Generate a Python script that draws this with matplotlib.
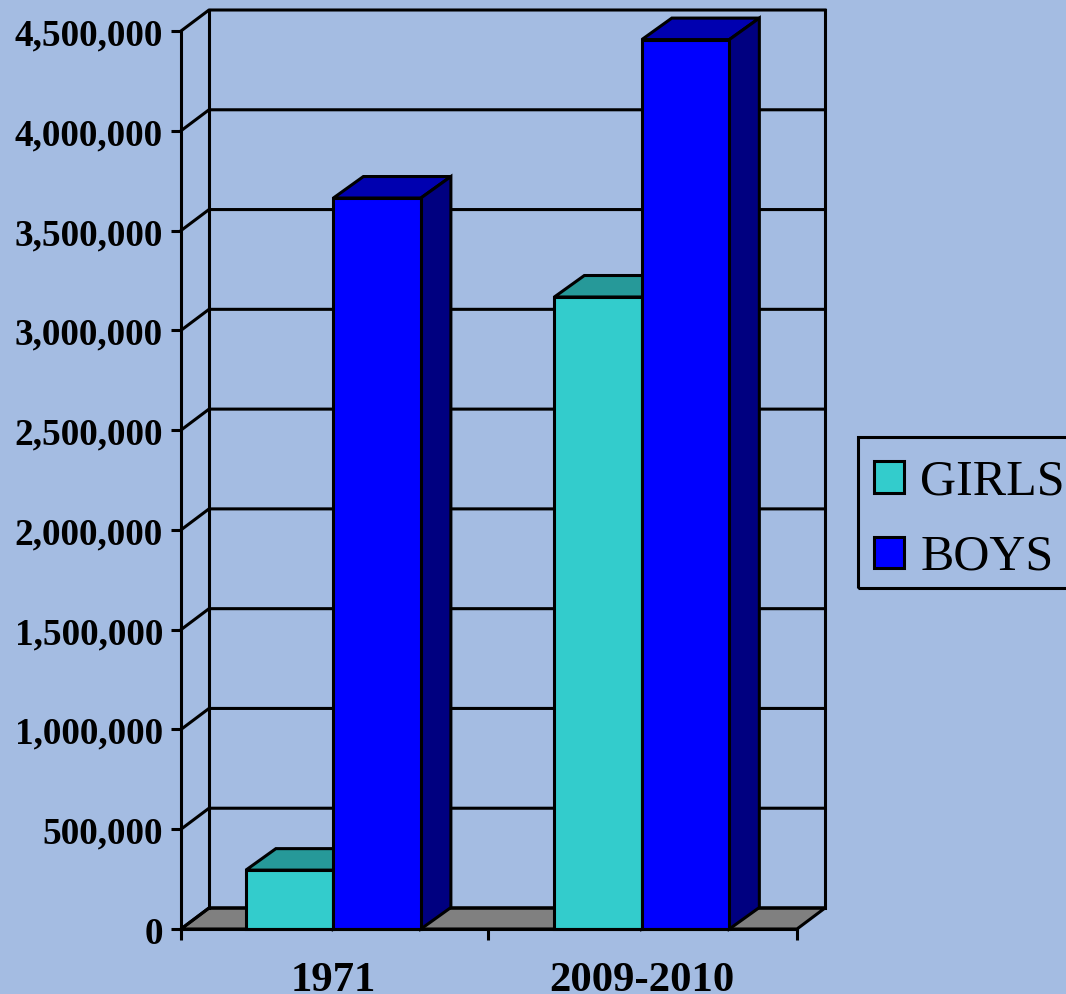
import matplotlib
matplotlib.use("Agg")
import matplotlib.pyplot as plt
from matplotlib.patches import Patch, Rectangle
from matplotlib.transforms import ScaledTranslation

categories = ["1971", "2009-2010"]
girls = [295000, 3167000]
boys = [3663000, 4457000]
series_names = ["GIRLS", "BOYS"]
y_ticks = [0, 500000, 1000000, 1500000, 2000000, 2500000, 3000000, 3500000, 4000000, 4500000]

BG = "#A4BCE2"
FONT = "Liberation Serif"
W, H = 1066, 994
LW = 2.2

fig = plt.figure(figsize=(W / 100, H / 100), dpi=100, facecolor=BG)
ax = fig.add_axes([181 / W, 1 - 929 / H, (797 - 181) / W, (929 - 31) / H], facecolor="none")
XMIN, XMAX = -0.494, 1.503
YMAX = 4500000
ax.set_xlim(XMIN, XMAX)
ax.set_ylim(0, YMAX)

# depth of the pseudo-3D box, expressed in data units
px_x = (XMAX - XMIN) / (797 - 181)
px_y = YMAX / (929 - 31)
DX, DY = 28 * px_x, 21 * px_y
BAR_DX, BAR_DY = 30 * px_x, 21.5 * px_y
BAR_W = 87.5 * px_x


def line(xs, ys, z=2, lw=LW):
    ax.plot(xs, ys, color="black", lw=lw, clip_on=False, zorder=z, solid_capstyle="projecting")


# floor
ax.fill([XMIN, XMAX, XMAX + DX, XMIN + DX], [0, 0, DY, DY],
        facecolor="#808080", edgecolor="black", lw=LW, clip_on=False, zorder=1, joinstyle="miter")
# walls and gridlines
for v in y_ticks:
    line([XMIN, XMIN + DX, XMAX + DX], [v, v + DY, v + DY])
line([XMIN + DX, XMIN + DX], [DY, YMAX + DY])
line([XMAX + DX, XMAX + DX], [DY, YMAX + DY])


def bar3d(x_left, value, front, top, side, z):
    ax.bar(x_left, value, BAR_W, align="edge", color=front, edgecolor="black", lw=LW,
           clip_on=False, zorder=z + 0.2)
    x_right = x_left + BAR_W
    ax.fill([x_left, x_right, x_right + BAR_DX, x_left + BAR_DX],
            [value, value, value + BAR_DY, value + BAR_DY],
            facecolor=top, edgecolor="black", lw=LW, clip_on=False, zorder=z, joinstyle="miter")
    ax.fill([x_right, x_right + BAR_DX, x_right + BAR_DX, x_right],
            [0, BAR_DY, value + BAR_DY, value],
            facecolor=side, edgecolor="black", lw=LW, clip_on=False, zorder=z, joinstyle="miter")


for i in range(len(categories)):
    bar3d(i - BAR_W, girls[i], "#33CCCC", "#269999", "#1A6666", 3 + i * 2)
    bar3d(i, boys[i], "#0000FF", "#0000B0", "#000080", 4 + i * 2)

# axes
for s in ("top", "right"):
    ax.spines[s].set_visible(False)
for s in ("left", "bottom"):
    ax.spines[s].set_linewidth(LW)
    ax.spines[s].set_zorder(10)

ax.set_yticks(y_ticks)
ax.set_yticklabels([f"{v:,}" for v in y_ticks], family=FONT, fontweight="bold", fontsize=26.8)
ax.tick_params(axis="y", length=7.5, width=LW, pad=5.5)
down = ScaledTranslation(0, -1 / 100, fig.dpi_scale_trans)
for lab in ax.get_yticklabels():
    lab.set_transform(lab.get_transform() + down)

ax.set_xticks([XMIN, 0.5, XMAX])
ax.set_xticklabels([])
ax.tick_params(axis="x", length=8, width=LW)
for i, c in enumerate(categories):
    ax.annotate(c, xy=(i, 0), xycoords=("data", "axes fraction"), xytext=(0, -24),
                textcoords="offset points", ha="center", va="top",
                family=FONT, fontweight="bold", fontsize=30.8, annotation_clip=False)

# legend: frame runs past the right edge of the figure
fig.add_artist(Rectangle((858 / W, 1 - 588 / H), 230 / W, 151 / H, transform=fig.transFigure,
                         facecolor="none", edgecolor="black", lw=LW))
handles = [Patch(facecolor="#33CCCC", edgecolor="black", lw=LW),
           Patch(facecolor="#0000FF", edgecolor="black", lw=LW)]
leg = fig.legend(handles, series_names, loc="upper left",
                 bbox_to_anchor=(858 / W, 1 - 443 / H), bbox_transform=fig.transFigure,
                 borderaxespad=0, frameon=False,
                 prop={"family": FONT, "size": 36},
                 handlelength=0.6, handleheight=0.6, handletextpad=0.33,
                 labelspacing=0.58, borderpad=0.32)

fig.savefig("out.png", dpi=100, facecolor=BG)
